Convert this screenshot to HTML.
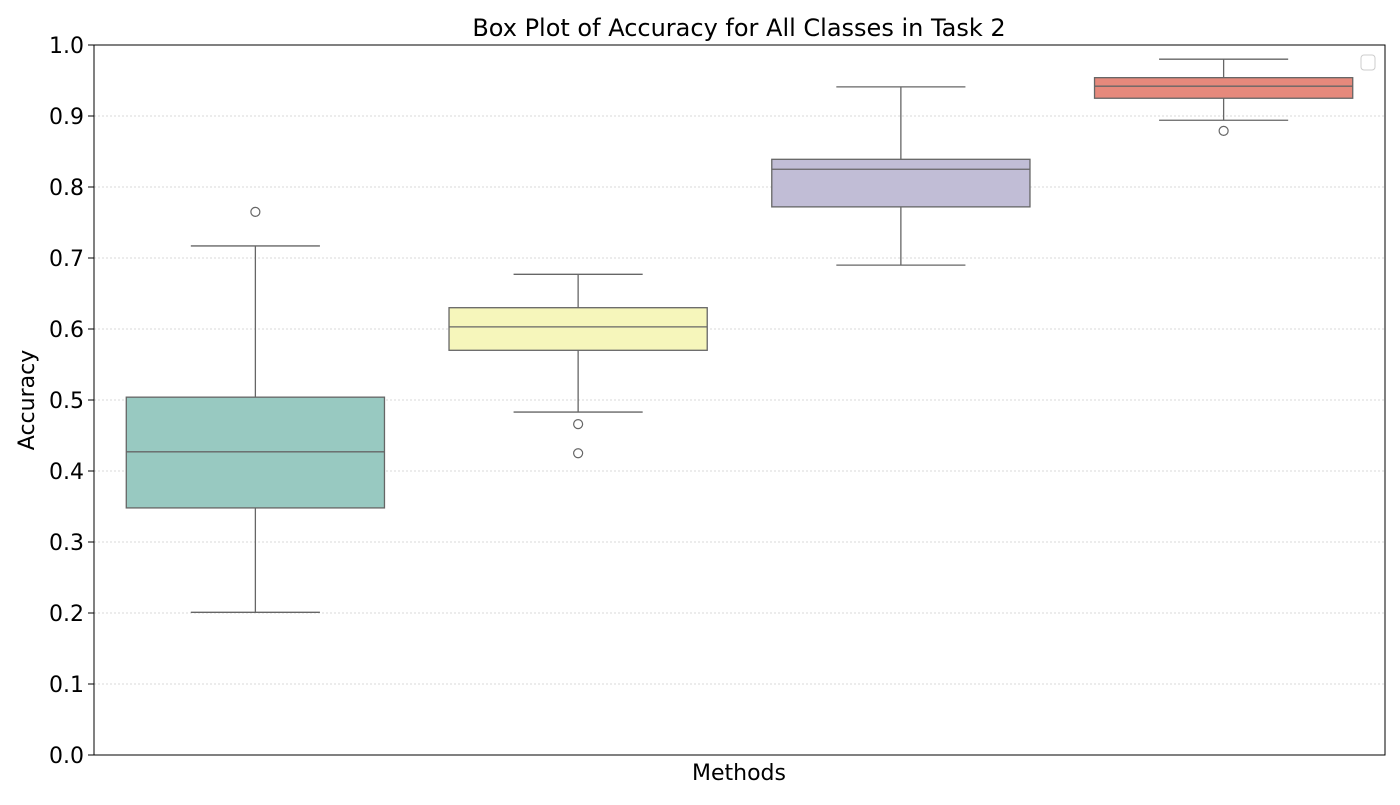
<!DOCTYPE html>
<html><head><meta charset="utf-8"><style>
body{margin:0;background:#fff;font-family:"Liberation Sans","DejaVu Sans",sans-serif}
svg text{font-family:"DejaVu Sans","Liberation Sans",sans-serif}
</style></head><body>
<svg id="chart" width="1400" height="800" xmlns="http://www.w3.org/2000/svg">
<text x="739" y="36" font-size="24" text-anchor="middle" fill="#000">Box Plot of Accuracy for All Classes in Task 2</text>
<g id="grid"></g>
<g id="boxes"></g>
<rect x="94" y="45" width="1291" height="710" fill="none" stroke="#000" stroke-width="1"/>
<g id="yticks"></g>
<text x="739" y="780" font-size="22" text-anchor="middle">Methods</text>
<text x="34" y="400" font-size="22" text-anchor="middle" transform="rotate(-90 34 400)">Accuracy</text>
<rect x="1361" y="55" width="14" height="15" rx="3" fill="#fff" stroke="#ccc"/>
</svg>
<script>
const categories=["A","B","C","D"];
const whiskerLow=[0.201,0.483,0.690,0.894];
const q1=[0.348,0.570,0.772,0.925];
const medians=[0.427,0.603,0.825,0.942];
const q3=[0.504,0.630,0.839,0.954];
const whiskerHigh=[0.717,0.677,0.941,0.980];
const outliers=[[0.765],[0.466,0.425],[],[0.879]];
const colors=["#98c9c1","#f6f6bb","#c1bdd6","#e6897c"];
const yTicks=[0,0.1,0.2,0.3,0.4,0.5,0.6,0.7,0.8,0.9,1.0];
const ns="http://www.w3.org/2000/svg";
const X0=94,X1=1385,Y0=755,Y1=45;
const y=v=>Y0-(v-0)/(1-0)*(Y0-Y1);
const band=(X1-X0)/categories.length;
const xc=i=>X0+band*(i+0.5);
function mk(tag,attrs,parent){const e=document.createElementNS(ns,tag);for(const k in attrs)e.setAttribute(k,attrs[k]);parent.appendChild(e);return e;}
const grid=document.getElementById('grid'),yt=document.getElementById('yticks'),bx=document.getElementById('boxes');
yTicks.forEach(t=>{
 if(t>0&&t<1){const l=mk('line',{x1:X0,x2:X1,y1:y(t),y2:y(t),stroke:'#ccc','stroke-width':0.8,'stroke-dasharray':'2,2'},grid);
 
 }
 const tk=mk('line',{x1:X0-6,x2:X0,y1:y(t),y2:y(t),stroke:'#000'},yt);
 
 
 const tx=mk('text',{x:X0-10,y:y(t)+8,'font-size':22,'text-anchor':'end'},yt);
 tx.textContent=t.toFixed(1);
 
 
});
categories.forEach((c,i)=>{
 const cx=xc(i),bw=band*0.8,cw=bw/2,st='#666';
 const g=mk('g',{},bx);
 
 
 mk('line',{x1:cx,x2:cx,y1:y(whiskerHigh[i]),y2:y(q3[i]),stroke:st,'stroke-width':1.3},g);
 mk('line',{x1:cx,x2:cx,y1:y(q1[i]),y2:y(whiskerLow[i]),stroke:st,'stroke-width':1.3},g);
 mk('line',{x1:cx-cw/2,x2:cx+cw/2,y1:y(whiskerHigh[i]),y2:y(whiskerHigh[i]),stroke:st,'stroke-width':1.3},g);
 mk('line',{x1:cx-cw/2,x2:cx+cw/2,y1:y(whiskerLow[i]),y2:y(whiskerLow[i]),stroke:st,'stroke-width':1.3},g);
 mk('rect',{x:cx-bw/2,y:y(q3[i]),width:bw,height:y(q1[i])-y(q3[i]),fill:colors[i],stroke:st,'stroke-width':1.3},g);
 mk('line',{x1:cx-bw/2,x2:cx+bw/2,y1:y(medians[i]),y2:y(medians[i]),stroke:st,'stroke-width':1.3},g);
 outliers[i].forEach(o=>{const p=mk('circle',{cx:cx,cy:y(o),r:4.5,fill:'none',stroke:st,'stroke-width':1.2},g);
 
 });
});
</script>
</body></html>
